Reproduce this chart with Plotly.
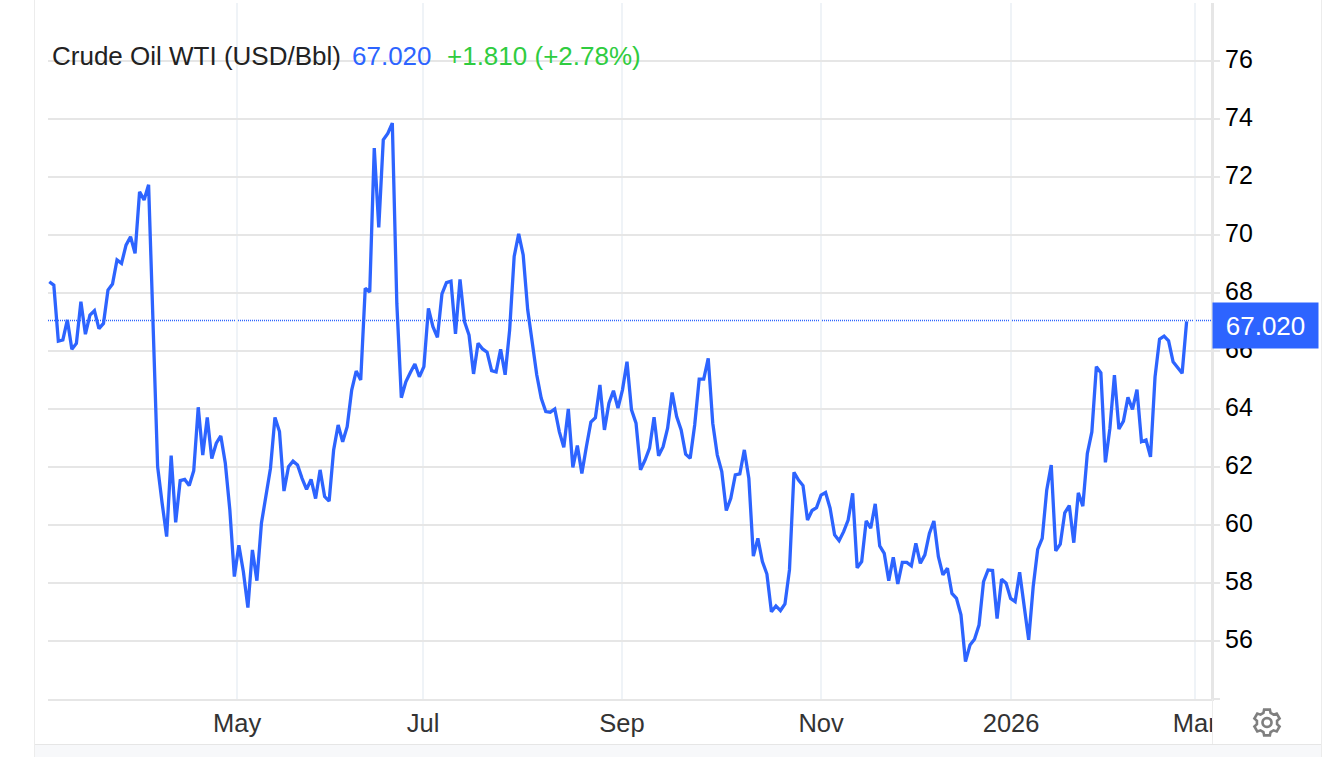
import math
import plotly.graph_objects as go

prices = [
68.39,68.27,66.34,66.38,67.07,66.06,66.26,67.70,66.58,67.24,67.39,66.77,66.95,68.10,68.31,69.14,69.02,69.65,69.94,69.37,71.49,71.21,71.73,66.84,
62.01,60.75,59.60,62.39,60.09,61.53,61.57,61.36,61.87,64.06,62.41,63.71,62.29,62.82,63.07,62.13,60.52,58.22,59.30,58.39,57.15,59.14,58.08,60.06,61.09,61.95,63.71,63.22,61.17,62.01,62.20,62.07,61.61,61.23,61.57,60.91,61.90,60.98,60.82,62.59,63.45,62.87,63.39,
64.65,65.31,65.00,68.16,68.04,73.00,70.26,73.28,73.50,73.86,67.64,64.39,64.94,65.26,65.55,65.11,65.46,
67.47,66.84,66.47,67.97,68.36,68.41,66.59,68.47,67.01,66.55,65.21,66.27,66.07,65.96,65.32,65.28,66.06,65.18,66.73,69.26,70.04,69.31,67.42,66.32,65.18,64.37,63.91,63.89,64.00,63.22,62.68,64.00,61.99,62.74,61.78,62.70,63.55,63.70,64.83,63.28,64.20,64.63,64.03,64.66,65.63,63.97,63.51,61.90,62.24,62.65,63.72,62.39,62.70,63.34,64.57,63.74,63.28,62.44,62.30,63.45,65.03,65.03,65.75,63.51,62.42,61.84,60.50,60.92,61.73,61.76,62.59,61.61,
58.93,59.54,58.74,58.31,57.01,57.21,57.05,57.28,58.45,61.82,61.55,61.36,60.17,60.50,60.60,61.03,61.12,60.58,59.66,59.46,59.77,60.17,61.09,58.52,58.74,60.14,59.89,60.73,59.28,59.02,58.08,58.89,57.97,58.71,58.71,58.59,59.37,58.68,58.97,59.71,60.14,58.91,58.28,58.51,57.64,57.47,56.90,55.29,55.86,56.06,56.55,58.05,58.45,58.43,56.77,58.13,57.99,57.47,57.36,58.37,57.13,56.04,
57.87,59.16,59.54,61.20,62.07,59.11,59.34,60.42,60.67,59.39,61.11,60.65,62.47,63.21,65.46,65.25,62.16,63.33,65.17,63.31,63.58,64.40,63.99,64.67,62.87,62.93,62.35,65.11,66.41,66.51,66.35,65.63,65.43,65.23,67.02,
]
day_index = list(range(len(prices)))
month_ticks = [41.6, 82.8, 126.9, 171.0, 213.1, 253.8]
month_labels = ["May", "Jul", "Sep", "Nov", "2026", "Mar"]
price_ticks = list(range(54, 78, 2))
price_labels = [""] + [str(v) for v in price_ticks[1:]]
title_text = "Crude Oil WTI (USD/Bbl)"
last_text = "67.020"
change_text = "+1.810 (+2.78%)"
last_price = 67.02

W, H = 1334, 757
L, R, T, B = 48, 1211, 3, 699
BLUE = "#2d64ff"
FONT = "Liberation Sans, Arial, sans-serif"

def px(x):
    return (x - L) / (R - L)

def py(y):
    return (B - y) / (B - T)

fig = go.Figure(go.Scatter(
    x=day_index, y=prices, mode="lines",
    line=dict(color=BLUE, width=3.3), hoverinfo="skip", showlegend=False,
))

def label(x, y, text, color, size=26):
    fig.add_annotation(xref="paper", yref="paper", x=px(x), y=py(y), text=text,
                       xanchor="left", yanchor="middle", showarrow=False, borderpad=0,
                       font=dict(family=FONT, size=size, color=color))

label(51, 55.5, title_text, "#222222")
label(350.5, 55.5, last_text, BLUE)
label(446, 55.5, change_text, "#2fcc40")

fig.add_annotation(xref="paper", yref="y", x=px(1212), y=last_price, yshift=-4, text=last_text,
                   xanchor="left", yanchor="middle", showarrow=False, width=105, height=45,
                   align="center", bgcolor=BLUE, borderpad=0,
                   font=dict(family=FONT, size=26, color="#ffffff"))

def gear_path(cx, cy, r_out, r_in, r_hole, teeth=6):
    pts = []
    step = 2 * math.pi / teeth
    for k in range(teeth):
        a = k * step - math.pi / 2
        for da, r in [(-0.36, r_in), (-0.22, r_out), (0.22, r_out), (0.36, r_in)]:
            pts.append((cx + r * math.cos(a + da), cy + r * math.sin(a + da)))
    outer = "M" + " L".join(f"{px(x):.5f},{py(y):.5f}" for x, y in pts) + " Z"
    ring = [(cx + r_hole * math.cos(t * math.pi / 12), cy + r_hole * math.sin(t * math.pi / 12)) for t in range(24)]
    inner = " M" + " L".join(f"{px(x):.5f},{py(y):.5f}" for x, y in ring) + " Z"
    return outer + inner

shapes = [
    dict(type="rect", layer="between", xref="paper", yref="paper", x0=px(47), x1=px(650), y0=py(29), y1=py(88),
         fillcolor="#ffffff", line_width=0),
    dict(type="line", xref="paper", yref="paper", x0=0, x1=px(1212), y0=py(320.5), y1=py(320.5),
         line=dict(color=BLUE, width=1.5, dash="1px,1px"), layer="below"),
    dict(type="rect", layer="above", xref="paper", yref="paper", x0=px(1213), x1=px(1232), y0=py(702), y1=py(743),
         fillcolor="#ffffff", line_width=0),
    dict(type="line", xref="paper", yref="paper", x0=px(1212.5), x1=px(1212.5), y0=py(699), y1=py(744),
         line=dict(color="#ececec", width=1)),
    dict(type="line", xref="paper", yref="paper", x0=px(34.5), x1=px(34.5), y0=py(0), y1=py(757),
         line=dict(color="#ececec", width=1)),
    dict(type="line", xref="paper", yref="paper", x0=px(1321.5), x1=px(1321.5), y0=py(0), y1=py(757),
         line=dict(color="#ececec", width=1)),
    dict(type="rect", xref="paper", yref="paper", x0=px(35), x1=px(1321), y0=py(745), y1=py(757),
         fillcolor="#f7f8fa", line_width=0),
    dict(type="line", xref="paper", yref="paper", x0=px(35), x1=px(1321), y0=py(744.5), y1=py(744.5),
         line=dict(color="#e6e6e6", width=1)),
    dict(type="path", xref="paper", yref="paper", path=gear_path(1267, 722.5, 13.2, 10.2, 4.5),
         line=dict(color="#7f7f7f", width=2.6), fillcolor="rgba(0,0,0,0)"),
]

fig.update_layout(
    width=W, height=H, autosize=False,
    margin=dict(l=L, r=W - R, t=T, b=H - B, pad=0),
    paper_bgcolor="#ffffff", plot_bgcolor="#ffffff",
    font=dict(family=FONT, size=24, color="#000000"),
    shapes=shapes,
    xaxis=dict(range=[-0.29, 257.4], tickmode="array", tickvals=month_ticks, ticktext=month_labels,
               showgrid=True, gridcolor="#eff3f7", gridwidth=2, zeroline=False,
               showline=True, linecolor="#e6e6e6", linewidth=2,
               ticks="", tickfont=dict(family=FONT, size=25.5, color="#333333")),
    yaxis=dict(range=[54, 78], side="right", tickmode="array", tickvals=price_ticks, ticktext=price_labels,
               showgrid=True, gridcolor="#e6e6e6", gridwidth=2, zeroline=False,
               showline=True, linecolor="#e6e6e6", linewidth=3,
               ticks="outside", ticklen=6, tickwidth=2, tickcolor="#e6e6e6", ticklabelshift=-2,
               tickfont=dict(family=FONT, size=25, color="#000000")),
)

fig.write_html("out.html", config=dict(displayModeBar=False),
               post_script="document.body.style.margin='0';document.body.style.overflow='hidden';")
